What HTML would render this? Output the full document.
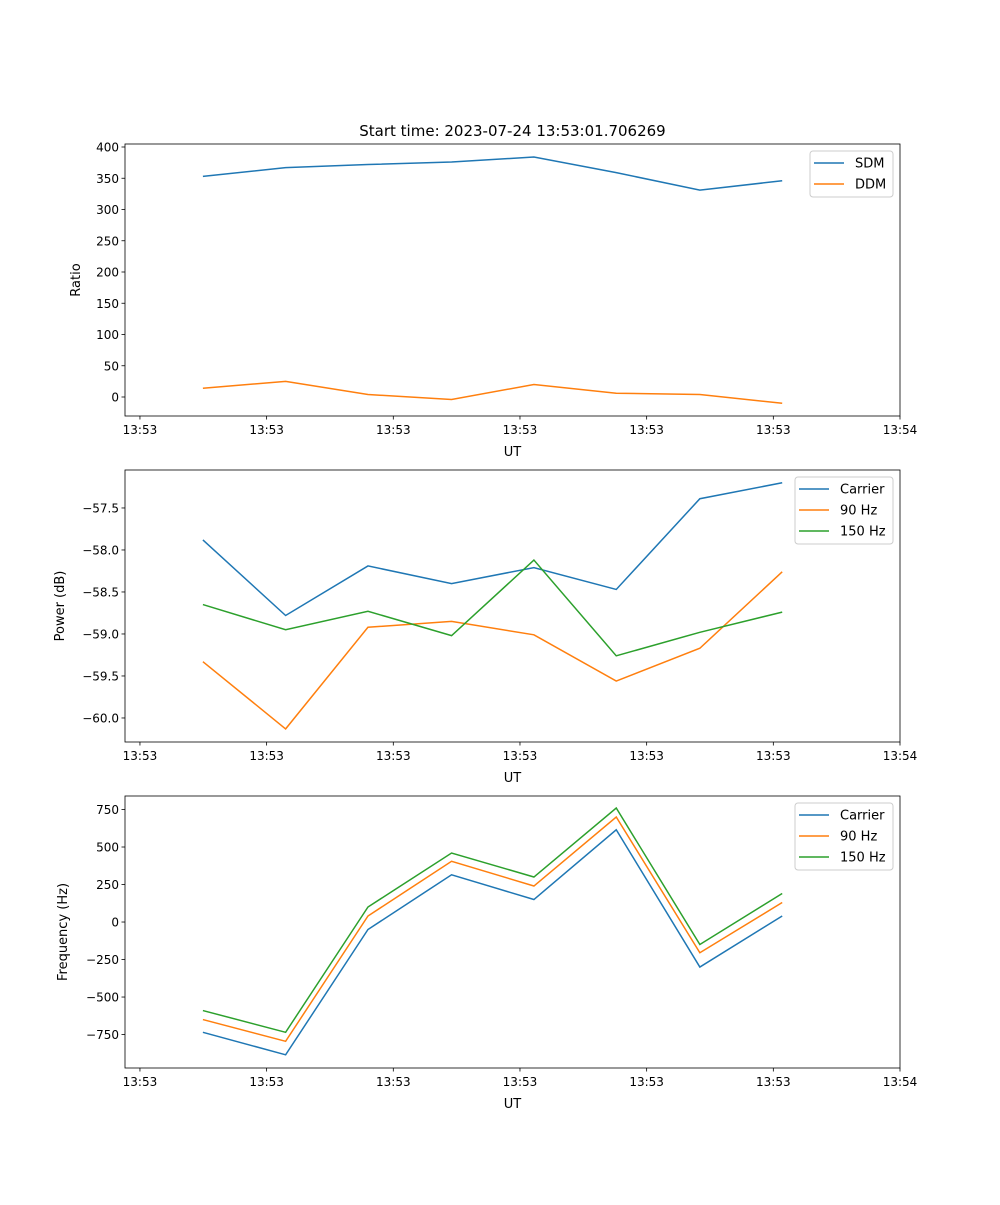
<!DOCTYPE html>
<html><head><meta charset="utf-8"><style>
body{margin:0;background:#fff}
svg text{font-family:"DejaVu Sans","Liberation Sans",sans-serif;fill:#000}
</style></head><body>
<svg id="fig" width="1000" height="1200" xmlns="http://www.w3.org/2000/svg">
<rect width="1000" height="1200" fill="#fff"/>
<text x="512.5" y="136" font-size="15" text-anchor="middle">Start time: 2023-07-24 13:53:01.706269</text>
</svg>
<script>
const times = [4.97, 11.5, 18.0, 24.6, 31.1, 37.6, 44.2, 50.7];
const xTicks = [0, 10, 20, 30, 40, 50, 60];
const xTickLabels = ["13:53","13:53","13:53","13:53","13:53","13:53","13:54"];
const sdm = [353, 367, 372, 376, 384, 359, 331, 346];
const ddm = [14, 25, 4, -4, 20, 6, 4, -10];
const ratioTicks = [0, 50, 100, 150, 200, 250, 300, 350, 400];
const powCarrier = [-57.88, -58.78, -58.19, -58.40, -58.21, -58.47, -57.39, -57.20];
const pow90 = [-59.33, -60.13, -58.92, -58.85, -59.01, -59.56, -59.17, -58.26];
const pow150 = [-58.65, -58.95, -58.73, -59.02, -58.12, -59.26, -58.98, -58.74];
const powTicks = [-60.0, -59.5, -59.0, -58.5, -58.0, -57.5];
const powTickLabels = ["\u221260.0","\u221259.5","\u221259.0","\u221258.5","\u221258.0","\u221257.5"];
const freqCarrier = [-735, -885, -50, 315, 150, 615, -300, 40];
const freq90 = [-650, -795, 40, 405, 240, 700, -205, 130];
const freq150 = [-590, -735, 100, 460, 300, 760, -150, 190];
const freqTicks = [-750, -500, -250, 0, 250, 500, 750];

const NS = "http://www.w3.org/2000/svg";
const fig = document.getElementById('fig');
const C = {blue:"#1f77b4", orange:"#ff7f0e", green:"#2ca02c"};
function mk(tag, attrs, parent){const e=document.createElementNS(NS,tag);for(const k in attrs)e.setAttribute(k,attrs[k]);(parent||fig).appendChild(e);return e;}

function panel(cfg){
  const L=125,R=900,T=cfg.top,B=cfg.top+272;
  const xs=t=>L+(t-(-1.18))/(60-(-1.18))*(R-L);
  const ys=v=>B-(v-cfg.ymin)/(cfg.ymax-cfg.ymin)*(B-T);
  const g=mk('g',{});
  
  
  cfg.series.forEach(s=>{
    const p=mk('polyline',{points:s.data.map((v,i)=>xs(times[i])+','+ys(v)).join(' '),fill:'none',stroke:s.color,'stroke-width':1.5},g);
    
    
  });
  mk('rect',{x:L,y:T,width:R-L,height:B-T,fill:'none',stroke:'#000','stroke-width':0.8},g);
  xTicks.forEach((t,i)=>{
    const x=xs(t);
    mk('line',{x1:x,x2:x,y1:B,y2:B+3.5,stroke:'#000','stroke-width':0.8},g);
    const tx=mk('text',{x:x,y:B+18,'font-size':12,'text-anchor':'middle'},g);
    tx.textContent=xTickLabels[i];
    
    
  });
  const xl=mk('text',{x:512.5,y:B+40,'font-size':13,'text-anchor':'middle'},g);
  xl.textContent='UT';
  
  
  cfg.yticks.forEach((v,i)=>{
    const y=ys(v);
    mk('line',{x1:L-3.5,x2:L,y1:y,y2:y,stroke:'#000','stroke-width':0.8},g);
    const tx=mk('text',{x:L-6,y:y+4.5,'font-size':12,'text-anchor':'end'},g);
    tx.textContent=cfg.ylabels?cfg.ylabels[i]:String(v).replace('-','\u2212');
    
    
  });
  const yl=mk('text',{x:0,y:0,'font-size':13,'text-anchor':'middle',transform:`translate(${cfg.ylx},${(T+B)/2}) rotate(-90)`},g);
  yl.textContent=cfg.ylabel;
  
  
  const lw=cfg.legW, lx=893-lw, ly=T+7, lh=cfg.series.length*21+4;
  const lg=mk('g',{},g);
  
  
  mk('rect',{x:lx,y:ly,width:lw,height:lh,rx:3,fill:'#fff','fill-opacity':0.8,stroke:'#ccc','stroke-width':1},lg);
  cfg.series.forEach((s,i)=>{
    const y=ly+12+i*21;
    mk('line',{x1:lx+4,x2:lx+34,y1:y,y2:y,stroke:s.color,'stroke-width':1.5},lg);
    const t=mk('text',{x:lx+45,y:y+4.5,'font-size':13},lg);
    t.textContent=s.label;
    
    
  });
}
panel({name:'ratio-panel',top:144,ymin:-30.4,ymax:404.8,yticks:ratioTicks,ylabel:'Ratio',ylx:80,legW:83,
  series:[{id:'sdm-line',label:'SDM',color:C.blue,data:sdm},{id:'ddm-line',label:'DDM',color:C.orange,data:ddm}]});
panel({name:'power-panel',top:470,ymin:-60.286,ymax:-57.048,yticks:powTicks,ylabels:powTickLabels,ylabel:'Power (dB)',ylx:64,legW:98,
  series:[{id:'power-carrier-line',label:'Carrier',color:C.blue,data:powCarrier},{id:'power-90hz-line',label:'90 Hz',color:C.orange,data:pow90},{id:'power-150hz-line',label:'150 Hz',color:C.green,data:pow150}]});
panel({name:'frequency-panel',top:796,ymin:-973,ymax:840,yticks:freqTicks,ylabel:'Frequency (Hz)',ylx:67,legW:98,
  series:[{id:'freq-carrier-line',label:'Carrier',color:C.blue,data:freqCarrier},{id:'freq-90hz-line',label:'90 Hz',color:C.orange,data:freq90},{id:'freq-150hz-line',label:'150 Hz',color:C.green,data:freq150}]});
</script>
</body></html>
